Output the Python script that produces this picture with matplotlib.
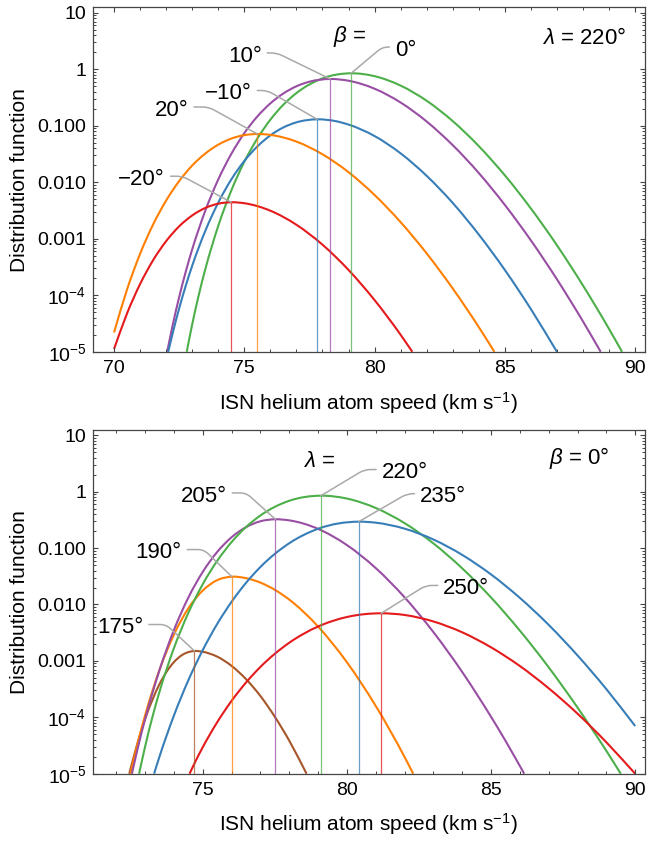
import numpy as np
import matplotlib
matplotlib.use('Agg')
import matplotlib.pyplot as plt
from matplotlib.path import Path
from matplotlib.patches import PathPatch
from matplotlib.ticker import (FixedLocator, FixedFormatter, MultipleLocator,
                               LogLocator, NullFormatter)

plt.rcParams['font.family'] = ['Liberation Sans', 'DejaVu Sans']
plt.rcParams['mathtext.fontset'] = 'custom'
plt.rcParams['mathtext.rm'] = 'Liberation Sans'
plt.rcParams['mathtext.it'] = 'Liberation Sans:italic'
plt.rcParams['mathtext.bf'] = 'Liberation Sans:bold'

RED, BLUE, GREEN = '#e41a1c', '#377eb8', '#4daf4a'
PURPLE, ORANGE, BROWN = '#984ea3', '#ff7f00', '#a65628'
FRAME = '#444444'
LEADER = '#a9a9a9'

# ---------------- lambda = 220 deg, varying beta ----------------
# beta = 0 deg (also lambda = 220 deg in the lower panel)
v_b0 = [72.79, 73.0, 73.25, 73.5, 74.0, 74.5, 75.0, 75.5, 76.0, 76.5, 77.0, 78.0,
        79.1, 80, 81, 82, 83, 84, 85, 86, 87, 88, 89, 89.5]
f_b0 = [1.0e-5, 3.05e-5, 1.00e-4, 2.86e-4, 1.69e-3, 7.13e-3, 0.0230, 0.0594, 0.128,
        0.236, 0.379, 0.690, 0.849, 0.755, 0.514, 0.277, 0.121, 0.0437, 0.0133,
        3.44e-3, 7.69e-4, 1.49e-4, 2.54e-5, 1.0e-5]

v_b10 = [72.04, 72.25, 72.5, 72.75, 73.0, 73.5, 74.0, 74.5, 75.0, 75.5, 76.0, 76.5,
         77.0, 77.5, 78.3, 79, 80, 81, 82, 83, 84, 85, 86, 87, 88, 88.68]
f_b10 = [1.0e-5, 2.94e-5, 9.29e-5, 2.59e-4, 6.49e-4, 3.11e-3, 1.12e-2, 3.17e-2,
         7.40e-2, 0.146, 0.249, 0.373, 0.500, 0.603, 0.673, 0.627, 0.453, 0.258,
         0.119, 0.0454, 0.0146, 3.98e-3, 9.38e-4, 1.92e-4, 3.45e-5, 1.0e-5]

v_bm10 = [72.08, 72.25, 72.5, 72.75, 73.0, 73.5, 74.0, 74.5, 75.0, 75.5, 76.0, 76.5,
          77.0, 77.8, 78.5, 79, 80, 81, 82, 83, 84, 85, 86, 87.0]
f_bm10 = [1.0e-5, 2.12e-5, 5.86e-5, 1.46e-4, 3.33e-4, 1.37e-3, 4.36e-3, 1.12e-2,
          2.38e-2, 4.30e-2, 6.76e-2, 9.35e-2, 0.115, 0.130, 0.121, 0.105, 0.0658,
          0.0325, 0.0130, 4.31e-3, 1.19e-3, 2.81e-4, 5.70e-5, 1.0e-5]

v_b20 = [70.0, 70.5, 71.0, 71.5, 72.0, 72.5, 73.0, 73.5, 74.0, 74.5, 75.5, 76, 77,
         78, 79, 80, 81, 82, 83, 84, 84.6]
f_b20 = [2.2e-5, 1.27e-4, 5.42e-4, 1.79e-3, 4.75e-3, 1.05e-2, 1.98e-2, 3.22e-2,
         4.63e-2, 5.93e-2, 7.16e-2, 6.90e-2, 5.25e-2, 3.13e-2, 1.51e-2, 5.96e-3,
         1.97e-3, 5.51e-4, 1.32e-4, 2.74e-5, 1.0e-5]

v_bm20 = [70.0, 70.5, 71.0, 71.5, 72.0, 72.5, 73.0, 73.5, 74.0, 74.5, 75, 76, 77,
          78, 79, 80, 81, 81.45]
f_bm20 = [1.12e-5, 4.79e-5, 1.58e-4, 4.18e-4, 9.08e-4, 1.66e-3, 2.59e-3, 3.51e-3,
          4.18e-3, 4.43e-3, 4.26e-3, 3.14e-3, 1.77e-3, 7.87e-4, 2.81e-4, 8.22e-5,
          2.00e-5, 1.0e-5]

beta_labels = ['0°', '10°', '\u221210°', '20°', '\u221220°']
beta_peak_v = [79.10, 78.30, 77.80, 75.50, 74.50]
beta_peak_f = [0.849, 0.673, 0.130, 0.0716, 0.00443]

# ---------------- beta = 0 deg, varying lambda ----------------
v_l175 = [72.45, 72.75, 73.0, 73.5, 73.75, 74.0, 74.25, 74.71, 75.0, 75.5, 76.0,
          76.5, 77.0, 77.5, 78.0, 78.6]
f_l175 = [1.0e-5, 3.71e-5, 9.35e-5, 3.89e-4, 6.49e-4, 9.53e-4, 1.24e-3, 1.50e-3,
          1.45e-3, 1.19e-3, 8.15e-4, 4.75e-4, 2.38e-4, 1.02e-4, 3.85e-5, 1.0e-5]

v_l190 = [72.49, 72.75, 73.0, 73.5, 74.0, 74.5, 75.0, 75.5, 76.01, 76.5, 77, 77.5,
          78, 79, 80, 81, 82, 82.3]
f_l190 = [1.0e-5, 3.61e-5, 1.09e-4, 6.98e-4, 2.94e-3, 8.57e-3, 1.77e-2, 2.70e-2,
          3.11e-2, 2.93e-2, 2.44e-2, 1.82e-2, 1.22e-2, 4.06e-3, 9.46e-4, 1.59e-4,
          1.98e-5, 1.0e-5]

v_l205 = [72.54, 72.75, 73.0, 73.25, 73.5, 74.0, 74.5, 75.0, 75.5, 76.0, 76.5, 77.0,
          77.52, 78, 79, 80, 81, 82, 83, 84, 85, 85.5, 86.15]
f_l205 = [1.0e-5, 2.92e-5, 9.35e-5, 2.67e-4, 6.92e-4, 3.54e-3, 1.33e-2, 3.79e-2,
          8.55e-2, 0.156, 0.235, 0.299, 0.324, 0.310, 0.219, 0.113, 0.0442, 0.0134,
          3.24e-3, 6.35e-4, 1.02e-4, 3.84e-5, 1.0e-5]

v_l235 = [73.31, 73.5, 74.0, 74.5, 75.0, 75.5, 76.0, 76.5, 77.0, 78.0, 79.0, 80.41,
          81, 82, 83, 84, 85, 86, 87, 88, 89, 90]
f_l235 = [1.0e-5, 2.03e-5, 1.08e-4, 4.55e-4, 1.56e-3, 4.52e-3, 1.12e-2, 2.42e-2,
          4.63e-2, 0.122, 0.220, 0.294, 0.282, 0.221, 0.142, 0.0757, 0.0341, 0.0131,
          4.35e-3, 1.25e-3, 3.16e-4, 7.0e-5]

v_l250 = [74.54, 74.75, 75.0, 75.5, 76.0, 76.5, 77.0, 78.0, 79.0, 80.0, 81.19, 82,
          83, 84, 85, 86, 87, 88, 89, 90]
f_l250 = [1.0e-5, 1.67e-5, 2.96e-5, 8.18e-5, 1.96e-4, 4.14e-4, 7.83e-4, 2.10e-3,
          4.07e-3, 6.00e-3, 6.98e-3, 6.52e-3, 5.00e-3, 3.21e-3, 1.74e-3, 8.11e-4,
          3.27e-4, 1.16e-4, 3.61e-5, 1.0e-5]

lambda_labels = ['175°', '190°', '205°', '220°', '235°', '250°']
lambda_peak_v = [74.71, 76.01, 77.52, 79.10, 80.41, 81.19]
lambda_peak_f = [0.0015, 0.0311, 0.324, 0.849, 0.294, 0.00698]

ytick_vals = [1e-5, 1e-4, 1e-3, 1e-2, 1e-1, 1, 10]
ytick_labels = [r'$10^{-5}$', r'$10^{-4}$', '0.001', '0.010', '0.100', '1', '10']

# label placement: offset of the text anchor from the peak (pixels), and the
# direction of the slanted part of the leader line
beta_layout = [((43.8, 23.1), 'left', 40),
               ((-68.6, 22.9), 'right', 154),
               ((-65.5, 25.7), 'right', 150),
               ((-68.9, 23.8), 'right', 151),
               ((-66.2, 22.9), 'right', 152)]
lambda_layout = [((-51.1, 23.3), 'right', 137),
                 ((-50.2, 24.0), 'right', 136),
                 ((-48.7, 23.2), 'right', 138),
                 ((60.7, 23.0), 'left', 31),
                 ((61.3, 24.8), 'left', 30),
                 ((62.1, 24.7), 'left', 32)]

YMIN, YMAX = 1e-5, 12.4


def smooth_curve(v, f):
    """Cubic Hermite pieces through the samples, built in log10(f) so the
    curve is smooth on the log axis; control points go back to data units."""
    x = np.asarray(v, float)
    y = np.log10(np.asarray(f, float))
    h = np.diff(x)
    d = np.diff(y) / h
    m = np.empty_like(x)
    m[0], m[-1] = d[0], d[-1]
    m[1:-1] = (d[:-1] * h[1:] + d[1:] * h[:-1]) / (h[:-1] + h[1:])
    verts = [(x[0], y[0])]
    codes = [Path.MOVETO]
    for i in range(len(x) - 1):
        verts += [(x[i] + h[i] / 3, y[i] + m[i] * h[i] / 3),
                  (x[i + 1] - h[i] / 3, y[i + 1] - m[i + 1] * h[i] / 3),
                  (x[i + 1], y[i + 1])]
        codes += [Path.CURVE4] * 3
    verts = np.array(verts)
    verts[:, 1] = 10 ** verts[:, 1]
    return Path(verts, codes)


def style_axes(ax, xlim):
    ax.set_yscale('log')
    ax.set_xlim(*xlim)
    ax.set_ylim(YMIN, YMAX)
    ax.yaxis.set_major_locator(FixedLocator(ytick_vals))
    ax.yaxis.set_major_formatter(FixedFormatter(ytick_labels))
    ax.yaxis.set_minor_locator(LogLocator(base=10, subs=np.arange(2, 10), numticks=20))
    ax.yaxis.set_minor_formatter(NullFormatter())
    ax.xaxis.set_major_locator(MultipleLocator(5))
    ax.xaxis.set_minor_locator(MultipleLocator(1))
    ax.tick_params(which='both', direction='in', top=True, right=True,
                   color=FRAME, labelcolor='black', labelsize=14)
    ax.tick_params(which='major', length=3.4, width=0.8)
    ax.tick_params(which='minor', length=1.9, width=0.7)
    ax.tick_params(axis='y', pad=4.5)
    ax.tick_params(axis='x', pad=6)
    for s in ax.spines.values():
        s.set_color(FRAME)
        s.set_linewidth(0.9)
    ax.set_ylabel('Distribution function', fontsize=15)
    ax.yaxis.set_label_coords(-0.115, 0.5)
    ax.set_xlabel('ISN helium atom speed (km s$^{-1}$)', fontsize=15)
    ax.xaxis.set_label_coords(0.5, -0.110)


def draw_panel(ax, curves, labels, peak_v, peak_f, layout):
    for (v, f, c), lab, pv, pf, (off, ha, ang) in zip(curves, labels, peak_v,
                                                      peak_f, layout):
        ax.plot([pv, pv], [YMIN, pf], color=c, lw=0.9, alpha=0.75)
        ax.add_patch(PathPatch(smooth_curve(v, f), fill=False, edgecolor=c,
                               lw=1.5, capstyle='butt'))
        relx = 1.0 if ha == 'right' else 0.0
        ax.annotate(lab, xy=(pv, pf), xytext=off, textcoords='offset pixels',
                    ha=ha, va='center', fontsize=16,
                    arrowprops=dict(arrowstyle='-', color=LEADER, lw=1.1,
                                    shrinkA=2, shrinkB=0, relpos=(relx, 0.65),
                                    connectionstyle=f'angle,angleA=0,angleB={ang},rad=6'))


fig = plt.figure(figsize=(6.49, 8.42), dpi=100)
ax1 = fig.add_axes([0.1428, 0.5822, 0.8510, 0.4089])
ax2 = fig.add_axes([0.1428, 0.0811, 0.8510, 0.4082])

style_axes(ax1, (69.18, 90.38))
style_axes(ax2, (71.18, 90.34))

draw_panel(ax1,
           [(v_b0, f_b0, GREEN), (v_b10, f_b10, PURPLE), (v_bm10, f_bm10, BLUE),
            (v_b20, f_b20, ORANGE), (v_bm20, f_bm20, RED)],
           beta_labels, beta_peak_v, beta_peak_f, beta_layout)
draw_panel(ax2,
           [(v_l175, f_l175, BROWN), (v_l190, f_l190, ORANGE),
            (v_l205, f_l205, PURPLE), (v_b0, f_b0, GREEN),
            (v_l235, f_l235, BLUE), (v_l250, f_l250, RED)],
           lambda_labels, lambda_peak_v, lambda_peak_f, lambda_layout)

ax1.text(0.4644, 0.9152, r'$\beta$ =', transform=ax1.transAxes, fontsize=16,
         ha='center', va='center')
ax1.text(0.8899, 0.9097, r'$\lambda$ = 220°', transform=ax1.transAxes, fontsize=16,
         ha='center', va='center')
ax2.text(0.4097, 0.9072, r'$\lambda$ =', transform=ax2.transAxes, fontsize=16,
         ha='center', va='center')
ax2.text(0.8809, 0.920, r'$\beta$ = 0°', transform=ax2.transAxes, fontsize=16,
         ha='center', va='center')

fig.savefig('out.png', dpi=100)
